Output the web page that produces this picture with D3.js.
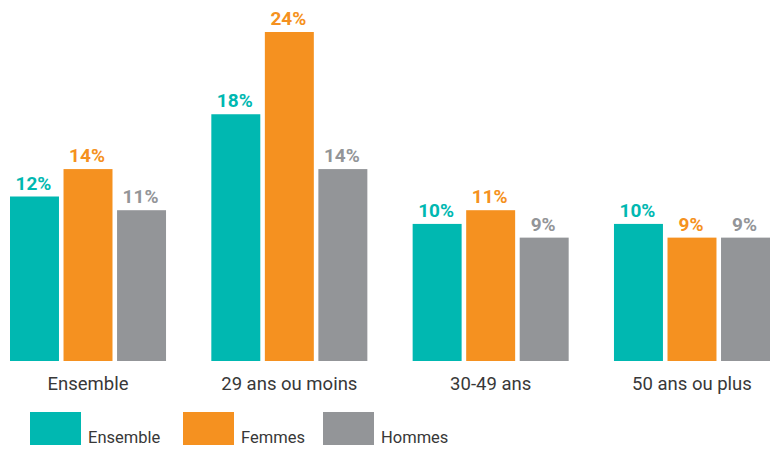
<!DOCTYPE html>
<html>
<head>
<meta charset="utf-8">
<script src="https://cdn.jsdelivr.net/npm/d3@7"></script>
<style>
  body { margin: 0; background: #fff; }
  text { font-family: Roboto, "Liberation Sans", sans-serif; }
</style>
</head>
<body>
<svg id="chart" width="770" height="449"></svg>
<script>
var categories = ["Ensemble", "29 ans ou moins", "30-49 ans", "50 ans ou plus"];
var series = ["Ensemble", "Femmes", "Hommes"];
var ensembleValues = [12, 18, 10, 10];
var femmesValues = [14, 24, 11, 9];
var hommesValues = [11, 14, 9, 9];

var colors = ["#00b8b1", "#f59120", "#939598"];

var svg = d3.select("#chart");

var rows = categories.map(function(c, i) {
    return {
        cat: c,
        vals: [ensembleValues[i], femmesValues[i], hommesValues[i]]
    };
});

var x0 = d3.scaleBand()
           .domain(categories)
           .range([10, 770])
           .paddingInner(0.225)
           .paddingOuter(0);

var x1 = d3.scaleBand()
           .domain(series)
           .range([0, x0.bandwidth()])
           .paddingInner(0.085);

var y = d3.scaleLinear()
          .domain([0, 24])
          .range([361, 32]);

var color = d3.scaleOrdinal(series, colors);

var group = svg.selectAll(".grp")
               .data(rows)
               .enter().append("g")
               .attr("class", "grp")
               .attr("transform", function(d) { return "translate(" + x0(d.cat) + ",0)"; });

var bar = group.selectAll(".bar")
               .data(function(d) {
                   return d.vals.map(function(v, j) { return { key: series[j], value: v }; });
               })
               .enter();

bar.append("rect")
   .attr("x", function(d) { return x1(d.key); })
   .attr("y", function(d) { return y(d.value); })
   .attr("width", x1.bandwidth())
   .attr("height", function(d) { return y(0) - y(d.value); })
   .attr("fill", function(d) { return color(d.key); });

bar.append("text")
   .attr("x", function(d) { return x1(d.key) + x1.bandwidth() / 2 - 1; })
   .attr("y", function(d) { return y(d.value) - 7; })
   .attr("text-anchor", "middle")
   .attr("font-size", "19px")
   .attr("font-weight", "bold")
   .attr("fill", function(d) { return color(d.key); })
   .text(function(d) { return d.value + "%"; });

// category labels
svg.selectAll(".cat")
   .data(categories)
   .enter().append("text")
   .attr("class", "cat")
   .attr("x", function(d) { return x0(d) + x0.bandwidth() / 2; })
   .attr("y", 390)
   .attr("text-anchor", "middle")
   .attr("font-size", "18.5px")
   .attr("fill", "#383838")
   .text(function(d) { return d; });

// legend
var legendX = [30, 183, 323];
var legend = svg.selectAll(".leg")
                .data(series)
                .enter().append("g")
                .attr("class", "leg")
                .attr("transform", function(d, i) { return "translate(" + legendX[i] + ",412)"; });

legend.append("rect")
      .attr("width", 51)
      .attr("height", 33)
      .attr("fill", function(d) { return color(d); });

legend.append("text")
      .attr("x", 58)
      .attr("y", 31)
      .attr("font-size", "16.5px")
      .attr("fill", "#383838")
      .text(function(d) { return d; });
</script>
</body>
</html>
